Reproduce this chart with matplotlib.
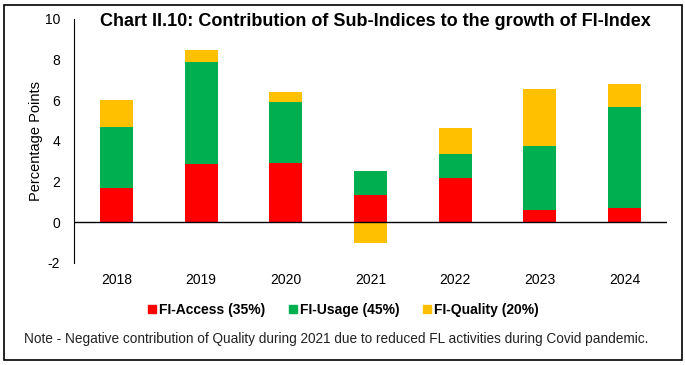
import matplotlib.pyplot as plt
from matplotlib.patches import Rectangle
from matplotlib.lines import Line2D
import numpy as np

years = ['2018', '2019', '2020', '2021', '2022', '2023', '2024']
access = [1.70, 2.85, 2.90, 1.36, 2.19, 0.59, 0.72]
usage = [2.97, 5.03, 3.00, 1.18, 1.18, 3.18, 4.95]
quality = [1.34, 0.59, 0.51, -1.02, 1.28, 2.80, 1.15]

c_access = '#FF0000'
c_usage = '#00B050'
c_quality = '#FFC000'

plt.rcParams['font.family'] = ['Liberation Sans', 'DejaVu Sans']
plt.rcParams['axes.unicode_minus'] = False

fig = plt.figure(figsize=(6.85, 3.65), dpi=100)
ax = fig.add_axes([74/685, 1 - 263/365, (667 - 74)/685, (263 - 19)/365])

x = np.arange(len(years))
acc = np.array(access)
use = np.array(usage)
qual = np.array(quality)
w = 0.39

ax.bar(x, acc, w, color=c_access, label='FI-Access (35%)')
ax.bar(x, use, w, bottom=acc, color=c_usage, label='FI-Usage (45%)')
# negative quality goes below zero, positive stacks on top
qbottom = np.where(qual < 0, 0, acc + use)
ax.bar(x, qual, w, bottom=qbottom, color=c_quality, label='FI-Quality (20%)')

ax.axhline(0, color='black', lw=1)
ax.set_xlim(-0.5, len(years) - 0.5)
ax.set_ylim(-2, 10)
ax.set_yticks([-2, 0, 2, 4, 6, 8, 10])
ax.set_xticks(x)
ax.set_xticklabels(years)
ax.tick_params(axis='y', length=0, pad=10, labelsize=10)
ax.tick_params(axis='x', length=0, pad=7, labelsize=10)
for s in ['top', 'right', 'bottom']:
    ax.spines[s].set_visible(False)
ax.spines['left'].set_linewidth(0.8)
ax.set_ylabel('Percentage Points', fontsize=10.5, labelpad=1)

fig.text(100/685, 1 - 21/365, 'Chart II.10: Contribution of Sub-Indices to the growth of FI-Index',
         fontsize=13, fontweight='bold', va='center', ha='left')

handles = [Line2D([], [], marker='s', ls='', color=c, markersize=6)
           for c in [c_access, c_usage, c_quality]]
labels = ['FI-Access (35%)', 'FI-Usage (45%)', 'FI-Quality (20%)']
fig.legend(handles, labels, loc='center', bbox_to_anchor=(0.5, 1 - 310/365), ncol=3,
           frameon=False, prop={'weight': 'bold', 'size': 10}, handletextpad=0.1,
           columnspacing=1.6, handlelength=0.8)

fig.text(24/685, 1 - 339/365,
         'Note - Negative contribution of Quality during 2021 due to reduced FL activities during Covid pandemic.',
         fontsize=9.8, va='center', ha='left', color='#222222')

fig.patches.append(Rectangle((4/685, 5/365), 678/685, 355/365, transform=fig.transFigure,
                             fill=False, edgecolor='black', lw=1.2))

fig.savefig('out.png', dpi=100)
